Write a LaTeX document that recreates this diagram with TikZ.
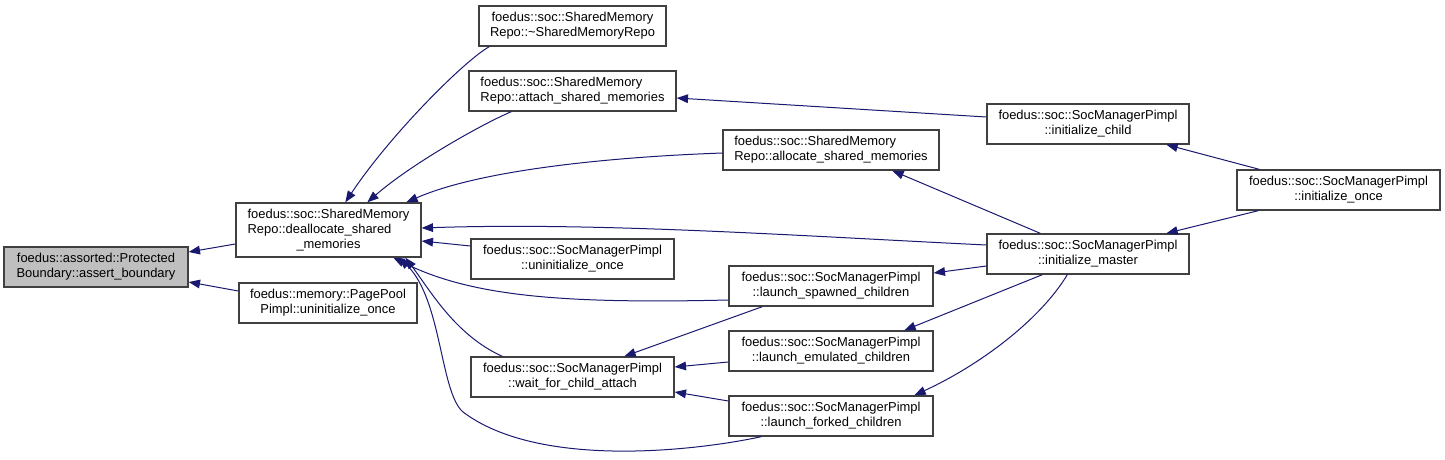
\documentclass[tikz,border=0pt]{standalone}
\usepackage{fontspec}
\setmainfont{Liberation Sans}
\usetikzlibrary{arrows.meta,calc}
\newlength\lnw
\newcommand\leftln[2]{\settowidth\lnw{#1}\makebox[\lnw][l]{#2}}
\definecolor{edgeblue}{HTML}{191970}
\definecolor{boxline}{HTML}{404040}
\definecolor{boxgray}{HTML}{BFBFBF}
\begin{document}
\begin{tikzpicture}[x=0.75pt,y=-0.75pt,
  box/.style={draw=boxline, line width=1pt, fill=white, inner sep=0pt, align=center,
    font=\fontsize{9.7}{11.25}\selectfont, minimum height=30pt},
  conn/.style={draw=edgeblue, line width=0.75pt, -{Triangle[length=8.5pt,width=6.5pt]}}]
\useasboundingbox (0,0) rectangle (1445,460);
% nodes
\node[box, fill=boxgray, minimum width=138pt] (assert) at (96,267) {foedus::assorted::Protected\\Boundary::assert\_boundary};
\node[box, minimum width=138.75pt, minimum height=40.5pt] (dealloc) at (328.5,230) {foedus::soc::SharedMemory\\\leftln{foedus::soc::SharedMemory}{Repo::deallocate\_shared}\\\_memories};
\node[box, minimum width=133.5pt] (pagepool) at (328,303) {foedus::memory::PagePool\\Pimpl::uninitialize\_once};
\node[box, minimum width=140.25pt] (dtor) at (572.5,26) {foedus::soc::SharedMemory\\Repo::\textasciitilde SharedMemoryRepo};
\node[box, minimum width=155.25pt] (attach) at (572.5,91) {\leftln{Repo::attach\_shared\_memories}{foedus::soc::SharedMemory}\\Repo::attach\_shared\_memories};
\node[box, minimum width=162pt] (allocate) at (831,150) {\leftln{Repo::allocate\_shared\_memories}{foedus::soc::SharedMemory}\\Repo::allocate\_shared\_memories};
\node[box, minimum width=152.25pt] (uninit) at (572.5,259) {foedus::soc::SocManagerPimpl\\::uninitialize\_once};
\node[box, minimum width=152.25pt] (wait) at (572.5,377) {foedus::soc::SocManagerPimpl\\::wait\_for\_child\_attach};
\node[box, minimum width=153pt] (spawned) at (831,286) {foedus::soc::SocManagerPimpl\\::launch\_spawned\_children};
\node[box, minimum width=153pt] (emulated) at (831,351) {foedus::soc::SocManagerPimpl\\::launch\_emulated\_children};
\node[box, minimum width=153pt] (forked) at (831,416) {foedus::soc::SocManagerPimpl\\::launch\_forked\_children};
\node[box, minimum width=151.5pt] (ichild) at (1088,124) {foedus::soc::SocManagerPimpl\\::initialize\_child};
\node[box, minimum width=151.5pt] (imaster) at (1088,254) {foedus::soc::SocManagerPimpl\\::initialize\_master};
\node[box, minimum width=152.25pt] (ionce) at (1338.5,190) {foedus::soc::SocManagerPimpl\\::initialize\_once};
% connectors
\draw[conn] ($(dealloc.west)+(0,14)$) -- ($(assert.east)+(0,-15)$);
\draw[conn] ($(pagepool.west)+(0,-12)$) -- ($(assert.east)+(0,15)$);
\draw[conn] ($(dtor.south west)+(11,0)$) .. controls (465,60) and (390,135) .. ($(dealloc.north west)+(110,0)$);
\draw[conn] ($(attach.south west)+(43,0)$) .. controls (480,125) and (410,165) .. ($(dealloc.north west)+(132,0)$);
\draw[conn] ($(allocate.west)+(0,3)$) .. controls (610,157) and (480,170) .. ($(dealloc.north west)+(171,0)$);
\draw[conn] ($(imaster.west)+(0,-9)$) .. controls (800,236) and (600,222) .. ($(dealloc.east)+(0,-2)$);
\draw[conn] ($(uninit.west)+(0,-13)$) -- ($(dealloc.east)+(0,11)$);
\draw[conn] ($(spawned.west)+(0,14)$) .. controls (560,304) and (470,296) .. ($(dealloc.south west)+(158,0)$);
\draw[conn] ($(wait.north west)+(32,0)$) .. controls (455,335) and (430,290) .. ($(dealloc.south west)+(170,0)$);
\draw[conn] ($(forked.south west)+(33,0)$) .. controls (700,450) and (540,470) .. (463,412) .. controls (440,392) and (442,300) .. ($(dealloc.south west)+(164,0)$);
\draw[conn] ($(ichild.west)+(0,-7)$) -- ($(attach.east)+(0,7)$);
\draw[conn] ($(imaster.north west)+(54,0)$) -- ($(allocate.south west)+(170,0)$);
\draw[conn] ($(ionce.north west)+(23,0)$) -- ($(ichild.south west)+(180,0)$);
\draw[conn] ($(ionce.south west)+(22,0)$) -- ($(imaster.north west)+(180,0)$);
\draw[conn] ($(imaster.west)+(0,12)$) -- ($(spawned.east)+(0,-13)$);
\draw[conn] ($(imaster.south west)+(56,0)$) -- ($(emulated.north west)+(176,0)$);
\draw[conn] ($(imaster.south west)+(81,0)$) .. controls (1040,320) and (980,365) .. ($(forked.north west)+(186,0)$);
\draw[conn] ($(spawned.south west)+(34,0)$) -- ($(wait.north west)+(154,0)$);
\draw[conn] ($(emulated.west)+(0,11)$) -- ($(wait.east)+(0,-10)$);
\draw[conn] ($(forked.west)+(0,-15)$) -- ($(wait.east)+(0,15)$);
\end{tikzpicture}
\end{document}
